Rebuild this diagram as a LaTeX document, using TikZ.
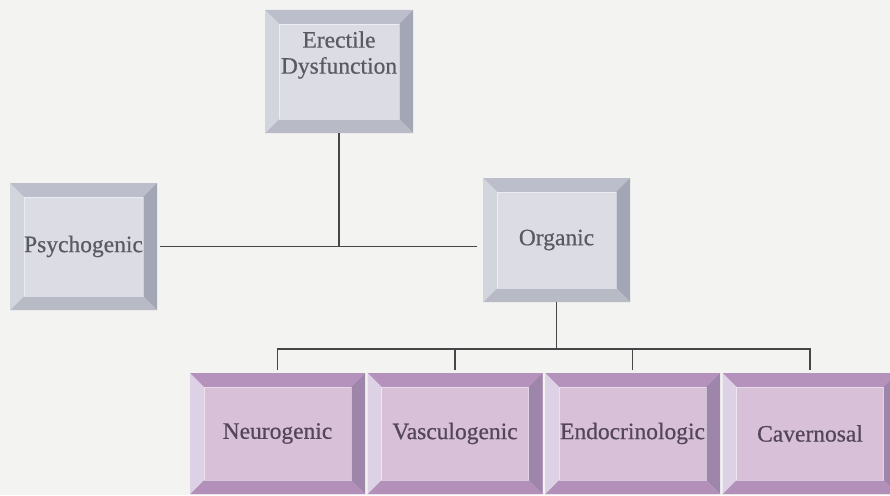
\documentclass[tikz,border=0pt]{standalone}
\usepackage{fontspec}
\setmainfont{Liberation Serif}[BoldFeatures={FakeBold=0.6}, BoldFont=Liberation Serif]
\usetikzlibrary{positioning,calc}
\definecolor{paper}{HTML}{F3F3F1}
\definecolor{wirec}{HTML}{464648}
% grey boxes
\definecolor{gface}{HTML}{DCDDE4}
\definecolor{gtop}{HTML}{BCBFCB}
\definecolor{gright}{HTML}{A3A6B4}
\definecolor{gbot}{HTML}{B8BBC6}
\definecolor{gleft}{HTML}{D3D5DD}
\definecolor{gtxt}{HTML}{5A5A62}
% purple boxes
\definecolor{pface}{HTML}{D8C0D9}
\definecolor{ptop}{HTML}{B592BC}
\definecolor{pright}{HTML}{9E86AB}
\definecolor{pbot}{HTML}{B290B9}
\definecolor{pleft}{HTML}{DDD1E5}
\definecolor{ptxt}{HTML}{54465A}
\newcommand\bw{14pt}
\newcommand\fs{\fontsize{23.5}{26}\selectfont\bfseries}
\newcommand\bevelfaces[1]{%
  \coordinate (bbnw) at (path picture bounding box.north west);
  \coordinate (bbne) at (path picture bounding box.north east);
  \coordinate (bbse) at (path picture bounding box.south east);
  \coordinate (bbsw) at (path picture bounding box.south west);
  \fill[#1top] (bbnw) -- (bbne) -- ([shift={(-\bw,-\bw)}]bbne) -- ([shift={(\bw,-\bw)}]bbnw) -- cycle;
  \fill[#1right] (bbne) -- (bbse) -- ([shift={(-\bw,\bw)}]bbse) -- ([shift={(-\bw,-\bw)}]bbne) -- cycle;
  \fill[#1bot] (bbse) -- (bbsw) -- ([shift={(\bw,\bw)}]bbsw) -- ([shift={(-\bw,\bw)}]bbse) -- cycle;
  \fill[#1left] (bbsw) -- (bbnw) -- ([shift={(\bw,-\bw)}]bbnw) -- ([shift={(\bw,\bw)}]bbsw) -- cycle;
  \draw[white, opacity=0.5, line width=0.6pt] ([shift={(\bw,-\bw)}]bbnw) rectangle ([shift={(-\bw,\bw)}]bbse);}
\tikzset{
  bev/.style={fill=#1face, text=#1txt, inner sep=0pt, align=center, font=\fs,
    path picture={\bevelfaces{#1}}},
  wire/.style={draw=wirec, line width=1.6pt}}

\begin{document}
\begin{tikzpicture}[x=1pt, y=-1pt]
\fill[paper] (0,0) rectangle (890,495);
\useasboundingbox (0,0) rectangle (890,495);
\node[bev=g, minimum width=148pt, minimum height=123pt] (ed) at (339,71.5) {};
\node[font=\fs, text=gtxt, align=center] (edtxt) at (339,55) {Erectile\\Dysfunction};
\node[bev=g, minimum width=147pt, minimum height=127pt] (psy) at (83.5,246.5) {Psychogenic};
\node[bev=g, minimum width=147pt, minimum height=124pt] (org) at (556.5,240) {Organic};
\foreach \n/\t [count=\i from 0] in {neu/Neurogenic, vas/Vasculogenic, endo/Endocrinologic, cav/Cavernosal}
  \node[bev=p, minimum width=175pt, minimum height=121pt] (\n) at (277.5+177.5*\i,433.5) {\t};
\draw[wire] (ed.south) -- (ed.south |- psy.east);
\draw[wire] ([xshift=3pt]psy.east) -- ([xshift=-6pt]psy.east -| org.west);
\coordinate (bus) at (0,349);
\draw[wire] (org.south) -- (org.south |- bus);
\draw[wire] ([yshift=3pt]neu.north) |- (bus -| cav.north) -- ([yshift=3pt]cav.north);
\foreach \n in {vas,endo}
  \draw[wire] (\n.north |- bus) -- ([yshift=3pt]\n.north);
\end{tikzpicture}
\end{document}
